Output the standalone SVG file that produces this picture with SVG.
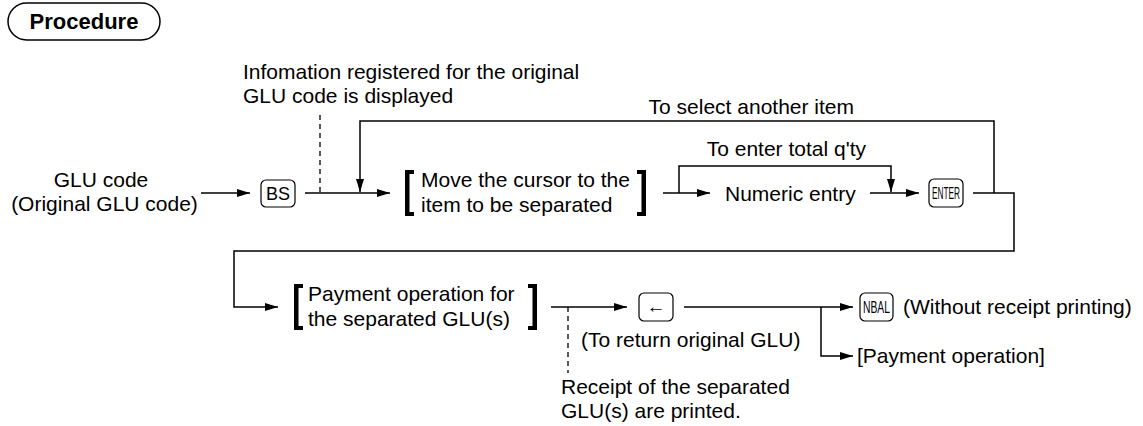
<svg xmlns="http://www.w3.org/2000/svg" width="1143" height="426" viewBox="0 0 1143 426">
<defs>
<marker id="ah" markerUnits="userSpaceOnUse" markerWidth="14" markerHeight="10" refX="13" refY="5" orient="auto">
<path d="M0,1 L13,5 L0,9 Z" fill="#000"/>
</marker>
<style>
.t{font-family:"Liberation Sans",Arial,sans-serif;font-size:21px;fill:#000}
.c{fill:none;stroke:#000;stroke-width:1.5}
.a{fill:none;stroke:#000;stroke-width:1.5;marker-end:url(#ah)}
.d{fill:none;stroke:#000;stroke-width:1.3;stroke-dasharray:5,4}
.k{fill:#fff;stroke:#000;stroke-width:1.2}
.kt{font-family:"Liberation Sans",Arial,sans-serif;fill:#000}
.br{fill:#000}
</style>
</defs>
<rect width="1143" height="426" fill="#fff"/>
<g id="title">
<rect x="8" y="3" width="152" height="37" rx="18.5" fill="none" stroke="#000" stroke-width="1.5"/>
<text x="84" y="28.5" text-anchor="middle" font-family="Liberation Sans,Arial,sans-serif" font-weight="bold" font-size="22">Procedure</text>
</g>
<g id="connectors">
<path class="a" d="M201,193 H250"/>
<path class="a" d="M305,193 H390"/>
<path class="d" d="M320,115 V193"/>
<path class="a" d="M994,193 V121 H360 V192"/>
<path class="a" d="M663,193 H710"/>
<path class="a" d="M679,193 V166 H891 V192"/>
<path class="a" d="M870,193 H919"/>
<path class="a" d="M973,193 H1014 V251 H234 V307 H278"/>
<path class="a" d="M551,307 H627"/>
<path class="d" d="M568,307 V373"/>
<path class="a" d="M684,307 H853"/>
<path class="a" d="M821,307 V356 H853"/>
</g>
<g id="glu-code">
<text class="t" x="101" y="187" text-anchor="middle">GLU code</text>
<text class="t" x="104.5" y="211" text-anchor="middle">(Original GLU code)</text>
</g>
<g id="key-bs">
<rect class="k" x="261" y="180" width="34" height="27" rx="5"/>
<text class="kt" x="278" y="200" text-anchor="middle" font-size="18">BS</text>
</g>
<g id="note-info">
<text class="t" x="243" y="79">Infomation registered for the original</text>
<text class="t" x="243" y="103">GLU code is displayed</text>
</g>
<g id="label-select">
<text class="t" x="854" y="114" text-anchor="end">To select another item</text>
</g>
<g id="move-cursor">
<path class="br" d="M405,170 h9 v4 h-4.5 v38 h4.5 v4 h-9 z"/>
<text class="t" x="421" y="187">Move the cursor to the</text>
<text class="t" x="421" y="212">item to be separated</text>
<path class="br" d="M646,170 h-9 v4 h4.5 v38 h-4.5 v4 h9 z"/>
</g>
<g id="label-total">
<text class="t" x="866" y="156" text-anchor="end">To enter total q'ty</text>
</g>
<g id="numeric-entry">
<text class="t" x="725" y="201">Numeric entry</text>
</g>
<g id="key-enter">
<rect class="k" x="929" y="179" width="34" height="28" rx="5"/>
<text class="kt" x="946" y="199" text-anchor="middle" font-size="16" textLength="28" lengthAdjust="spacingAndGlyphs">ENTER</text>
</g>
<g id="payment-separated">
<path class="br" d="M294,284 h9 v4 h-4.5 v38 h4.5 v4 h-9 z"/>
<text class="t" x="308" y="301">Payment operation for</text>
<text class="t" x="308" y="326">the separated GLU(s)</text>
<path class="br" d="M537,284 h-9 v4 h4.5 v38 h-4.5 v4 h9 z"/>
</g>
<g id="key-back">
<rect class="k" x="639" y="293" width="34" height="28" rx="5"/>
<text class="kt" x="656" y="313" text-anchor="middle" font-size="19">←</text>
</g>
<g id="label-return">
<text class="t" x="581" y="347">(To return original GLU)</text>
</g>
<g id="note-receipt">
<text class="t" x="561" y="394">Receipt of the separated</text>
<text class="t" x="561" y="418">GLU(s) are printed.</text>
</g>
<g id="key-nbal">
<rect class="k" x="860" y="293" width="33" height="28" rx="5"/>
<text class="kt" x="876.5" y="313" text-anchor="middle" font-size="16" textLength="27" lengthAdjust="spacingAndGlyphs">NBAL</text>
<text class="t" x="903" y="314">(Without receipt printing)</text>
</g>
<g id="payment-operation">
<text class="t" x="857" y="363">[Payment operation]</text>
</g>
</svg>
